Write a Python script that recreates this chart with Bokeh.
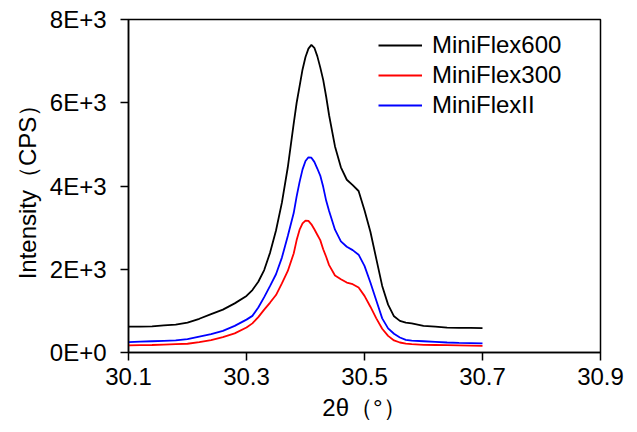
from bokeh.plotting import figure
from bokeh.models import Range1d, FixedTicker, CustomJSTickFormatter, Legend, LegendItem
from bokeh.embed import file_html
from bokeh.resources import INLINE

# ---- data ----
two_theta = [30.10, 30.12, 30.14, 30.16, 30.18, 30.20, 30.22, 30.24, 30.26, 30.28,
             30.30, 30.31, 30.32, 30.33, 30.34, 30.35, 30.36, 30.37,
             30.380, 30.385, 30.390, 30.395, 30.400, 30.405, 30.410, 30.415, 30.420, 30.425, 30.430, 30.435,
             30.44, 30.45, 30.46, 30.47, 30.48, 30.49, 30.50, 30.51, 30.52, 30.53, 30.54, 30.55, 30.56, 30.57, 30.58,
             30.60, 30.62, 30.64, 30.66, 30.68, 30.70]

miniflex600 = [620, 620, 630, 650, 670, 720, 810, 920, 1030, 1180,
               1360, 1500, 1700, 1980, 2400, 2930, 3600, 4450,
               5500, 6000, 6400, 6800, 7100, 7300, 7390, 7320, 7120, 6850, 6550, 6150,
               5700, 4950, 4450, 4150, 4020, 3880, 3420, 2900, 2250, 1600, 1150, 870, 760, 720, 700,
               640, 620, 600, 590, 590, 585]

miniflex300 = [170, 175, 180, 190, 200, 210, 250, 300, 370, 460,
               600, 700, 850, 1030, 1200, 1380, 1660, 1960,
               2380, 2700, 2950, 3100, 3170, 3160, 3080, 2960, 2830, 2700, 2480, 2300,
               2100, 1850, 1760, 1680, 1640, 1560, 1360, 1100, 820, 570, 400, 290, 240, 215, 200,
               185, 180, 175, 170, 165, 160]

miniflexII = [250, 260, 270, 280, 290, 320, 380, 440, 520, 640,
              790, 880, 1080, 1330, 1600, 1880, 2280, 2800,
              3350, 3750, 4100, 4400, 4600, 4690, 4680, 4580, 4420, 4250, 3980, 3650,
              3400, 2950, 2670, 2540, 2460, 2350, 2080, 1680, 1250, 820, 580, 450, 360, 305, 285,
              270, 255, 240, 230, 225, 220]

series_names = ["MiniFlex600", "MiniFlex300", "MiniFlexII"]
series_colors = ["black", "red", "blue"]
x_ticks = [30.1, 30.3, 30.5, 30.7, 30.9]
y_ticks = [0, 2000, 4000, 6000, 8000]

FONT = "Liberation Sans"
FS = "24px"

p = figure(width=637, height=432, output_backend="svg", toolbar_location=None,
           x_range=Range1d(30.1, 30.9), y_range=Range1d(0, 8000),
           min_border_left=128, min_border_right=37, min_border_top=19, min_border_bottom=80)
p.background_fill_color = "white"
p.border_fill_color = "white"
p.xgrid.visible = False
p.ygrid.visible = False
p.outline_line_color = "black"
p.outline_line_width = 1.5

renderers = []
for ys, c in zip([miniflex600, miniflex300, miniflexII], series_colors):
    renderers.append(p.line(two_theta, ys, line_color=c, line_width=1.8))

for ax in (p.xaxis[0], p.yaxis[0]):
    ax.axis_line_color = "black"
    ax.axis_line_width = 1.5
    ax.major_tick_line_color = "black"
    ax.major_tick_line_width = 1.5
    ax.major_tick_in = 0
    ax.major_tick_out = 8
    ax.minor_tick_line_color = None
    ax.major_label_text_font = FONT
    ax.major_label_text_font_size = FS
    ax.major_label_text_color = "black"
    ax.axis_label_text_font = FONT
    ax.axis_label_text_font_size = FS
    ax.axis_label_text_font_style = "normal"
    ax.axis_label_text_color = "black"

p.xaxis.ticker = FixedTicker(ticks=x_ticks)
p.xaxis.formatter = CustomJSTickFormatter(code="return tick.toFixed(1);")
p.xaxis.major_label_standoff = 7
p.xaxis.axis_label = "2θ（°）"
p.xaxis.axis_label_standoff = 6

p.yaxis.ticker = FixedTicker(ticks=y_ticks)
p.yaxis.formatter = CustomJSTickFormatter(
    code="return tick == 0 ? '0E+0' : (tick/1000).toFixed(0) + 'E+3';")
p.yaxis.major_label_standoff = 14
p.yaxis.axis_label = "Intensity（CPS）"
p.yaxis.axis_label_standoff = 6

legend = Legend(items=[LegendItem(label=n, renderers=[r]) for n, r in zip(series_names, renderers)],
                location=(250, 232))
legend.border_line_color = None
legend.background_fill_alpha = 0
legend.padding = 0
legend.margin = 0
legend.spacing = 0
legend.glyph_width = 44
legend.glyph_height = 30
legend.label_height = 30
legend.label_standoff = 10
legend.label_text_font = FONT
legend.label_text_font_size = FS
legend.label_text_color = "black"
p.add_layout(legend)

open("out.html", "w").write(file_html(p, INLINE))
